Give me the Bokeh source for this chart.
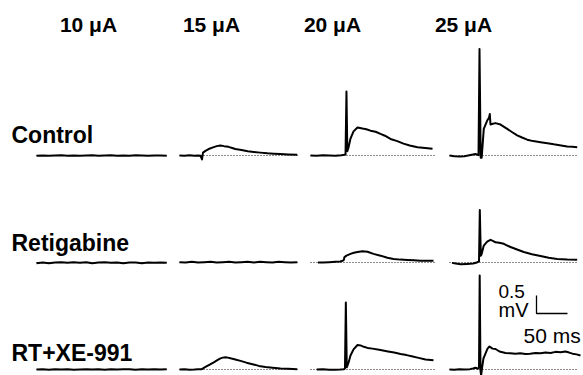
from bokeh.plotting import figure
from bokeh.models import Range1d, Label
from bokeh.embed import file_html
from bokeh.resources import INLINE

# ---------------------------------------------------------------------------
# Field-potential traces: 3 conditions x 4 stimulus intensities
# time in ms (from the start of each sweep), voltage in mV (relative to baseline)
# ---------------------------------------------------------------------------
currents = ["10 \u03bcA", "15 \u03bcA", "20 \u03bcA", "25 \u03bcA"]
conditions = ["Control", "Retigabine", "RT+XE-991"]

# --- Control ---------------------------------------------------------------
ctrl_10_t = [0, 10, 20, 30, 40, 50, 60, 70, 80, 90, 100, 110, 120, 130, 140, 150, 160, 170, 180, 190, 200, 210]
ctrl_10_v = [-0.01, 0.00, -0.01, 0.00, 0.01, -0.01, 0.00, -0.01, 0.00, 0.01, -0.01, 0.00, 0.01, -0.01, 0.00,
             -0.01, 0.01, 0.00, -0.01, 0.00, 0.00, -0.01]

ctrl_15_t = [0, 8, 16, 24, 30, 34, 36.3, 37.9, 41.9, 47, 53, 60, 66, 72, 79, 85, 90, 100, 110, 120, 130, 142,
             152, 163, 175, 190]
ctrl_15_v = [0.00, -0.01, 0.01, -0.01, 0.00, -0.01, -0.11, 0.08, 0.13, 0.18, 0.22, 0.26, 0.28, 0.26, 0.24, 0.21,
             0.18, 0.15, 0.12, 0.10, 0.08, 0.06, 0.05, 0.04, 0.03, 0.02]

ctrl_20_t = [0, 10, 20, 30, 40, 50, 54, 56.5, 58, 59.4, 61.3, 64.5, 69.4, 75.8, 83.9, 90, 96.8, 105, 112.9, 120,
             129, 140, 150, 160, 172.6, 185, 196.8]
ctrl_20_v = [0.00, -0.01, 0.01, 0.00, -0.01, 0.01, 0.02, 0.03, 1.78, 0.12, 0.22, 0.47, 0.67, 0.78, 0.75, 0.73,
             0.69, 0.66, 0.60, 0.55, 0.46, 0.40, 0.33, 0.28, 0.23, 0.21, 0.19]

ctrl_25_t = [0, 8, 16, 24, 30, 36, 42, 46.8, 48.4, 50.3, 51.9, 55.3, 60.8, 63.7, 65.0, 66.1, 70, 74.2, 82.3,
             93.1, 100, 109.2, 117, 125.3, 135, 146.8, 158, 168.2, 180, 189.8, 198, 206]
ctrl_25_v = [0.00, -0.02, -0.03, -0.02, 0.00, 0.02, 0.04, 0.01, 2.96, -0.06, -0.06, 0.74, 0.97, 1.05, 1.15,
             0.86, 0.88, 0.90, 0.86, 0.74, 0.66, 0.56, 0.50, 0.44, 0.40, 0.37, 0.34, 0.31, 0.28, 0.25, 0.24, 0.23]

# --- Retigabine ------------------------------------------------------------
rtg_10_t = [0, 10, 20, 30, 40, 50, 60, 70, 80, 90, 100, 110, 120, 130, 140, 150, 160, 170, 180, 190, 200, 210]
rtg_10_v = [-0.02, 0.00, -0.02, 0.00, 0.01, -0.01, 0.01, -0.01, 0.01, -0.02, 0.00, 0.01, -0.01, 0.00, -0.02,
            0.00, 0.00, -0.02, 0.00, -0.01, 0.00, -0.01]

rtg_15_t = [0, 10, 20, 30, 40, 50, 60, 70, 80, 90, 100, 110, 120, 130, 140, 150, 160, 170, 180, 190]
rtg_15_v = [0.01, 0.00, 0.02, 0.00, 0.01, 0.02, 0.00, 0.01, 0.02, 0.00, 0.01, 0.02, 0.00, 0.02, 0.01, 0.00,
            0.02, 0.01, 0.00, 0.01]

rtg_20_t = [12, 20, 30, 40, 48, 52, 53.7, 54.8, 58, 64.5, 70, 75.8, 83.9, 91.9, 101.6, 112.9, 124, 133.9, 145,
            156.5, 167, 177.4, 188, 198.4]
rtg_20_v = [0.00, 0.00, 0.01, 0.02, 0.03, 0.05, 0.07, 0.15, 0.19, 0.24, 0.27, 0.29, 0.31, 0.30, 0.24, 0.19,
            0.13, 0.10, 0.08, 0.07, 0.06, 0.05, 0.05, 0.05]

rtg_25_t = [4, 10, 18, 28, 38, 44, 47.6, 48.9, 50.5, 51.6, 55.3, 60.8, 66.1, 70, 74.2, 80, 87.6, 98.4, 109,
            119.8, 133, 146.8, 160, 173.7, 190, 206]
rtg_25_v = [-0.01, -0.03, -0.05, -0.04, -0.03, 0.00, 0.03, 1.46, 0.19, 0.22, 0.47, 0.58, 0.63, 0.60, 0.56, 0.55,
            0.52, 0.43, 0.36, 0.29, 0.23, 0.18, 0.13, 0.10, 0.08, 0.075]

# --- Retigabine + XE-991 ---------------------------------------------------
rtxe_10_t = [0, 10, 20, 30, 40, 50, 60, 70, 80, 90, 100, 110, 120, 130, 140, 150, 160, 170, 180, 190, 200, 210]
rtxe_10_v = [0.00, 0.01, -0.01, 0.01, 0.00, 0.01, -0.01, 0.00, 0.01, 0.00, 0.01, -0.01, 0.01, 0.00, 0.01,
             0.01, -0.01, 0.01, 0.00, 0.01, 0.00, 0.01]

rtxe_15_t = [0, 8, 16, 24, 30, 36, 41.9, 48, 55.3, 61, 66.1, 70, 74.2, 78, 82.3, 90, 98.4, 108, 119.4, 128,
             138.7, 150, 162.9, 175, 190]
rtxe_15_v = [0.00, 0.01, -0.01, 0.00, 0.01, 0.01, 0.07, 0.13, 0.20, 0.26, 0.31, 0.33, 0.34, 0.33, 0.31, 0.28,
             0.24, 0.19, 0.14, 0.10, 0.07, 0.05, 0.03, 0.02, 0.01]

rtxe_20_t = [10, 20, 30, 40, 48, 54, 55.6, 57, 58.5, 61.3, 64.5, 69.4, 75.8, 80.6, 86, 91.9, 100, 112.9, 125,
             135, 145.2, 155, 165, 172.6, 185.5, 198.4]
rtxe_20_v = [0.00, 0.01, -0.01, -0.01, 0.00, 0.01, 0.03, 1.86, 0.06, 0.19, 0.39, 0.56, 0.68, 0.67, 0.63, 0.60,
             0.58, 0.54, 0.50, 0.47, 0.43, 0.40, 0.36, 0.33, 0.28, 0.26]

rtxe_25_t = [0, 8, 16, 24, 33, 38, 42, 46, 47.6, 48.7, 50, 51, 52.4, 54.8, 58, 61.3, 64.5, 69.4, 74.2, 80.6,
             90.3, 98, 106.5, 114, 122.6, 130, 138.7, 147, 154.8, 163, 171, 179, 187, 193, 198.4, 205, 211.3]
rtxe_25_v = [0.00, -0.01, 0.01, 0.00, 0.01, 0.03, 0.05, 0.02, 0.06, 2.61, -0.03, -0.17, 0.03, 0.31, 0.44,
             0.58, 0.64, 0.58, 0.57, 0.50, 0.46, 0.45, 0.44, 0.45, 0.43, 0.44, 0.46, 0.45, 0.47, 0.46, 0.49,
             0.48, 0.50, 0.47, 0.44, 0.42, 0.39]

# sweep length (ms) of the dotted baseline drawn under each column
baseline_len = [210, 192, 202, 207]

traces = [
    [(ctrl_10_t, ctrl_10_v), (ctrl_15_t, ctrl_15_v), (ctrl_20_t, ctrl_20_v), (ctrl_25_t, ctrl_25_v)],
    [(rtg_10_t, rtg_10_v), (rtg_15_t, rtg_15_v), (rtg_20_t, rtg_20_v), (rtg_25_t, rtg_25_v)],
    [(rtxe_10_t, rtxe_10_v), (rtxe_15_t, rtxe_15_v), (rtxe_20_t, rtxe_20_v), (rtxe_25_t, rtxe_25_v)],
]

# ---------------------------------------------------------------------------
# Layout: one canvas in ms / mV, each panel shifted by its column / row offset
# ---------------------------------------------------------------------------
W, H = 583, 375
PX_PER_MS = 0.62   # 50 ms  -> 31 px
PX_PER_MV = 36.0   # 0.5 mV -> 18 px
TEXT_LIFT = 8      # px; compensates the renderer's baseline placement


def sx(px):
    return px / PX_PER_MS


def sy(py):
    return (H - py) / PX_PER_MV


col_x0 = [sx(36), sx(179), sx(310), sx(449)]
row_y0 = [sy(155), sy(262), sy(369)]

p = figure(width=W, height=H, x_range=Range1d(0, sx(W)), y_range=Range1d(0, sy(0)),
           x_axis_type=None, y_axis_type=None, output_backend="svg", toolbar_location=None,
           min_border=0)
p.grid.visible = False
p.outline_line_color = None
p.background_fill_color = "white"
p.border_fill_color = "white"

FONT = "Liberation Sans"

for r in range(len(conditions)):
    for c in range(len(currents)):
        x0, y0 = col_x0[c], row_y0[r]
        # dotted zero line
        p.line([x0, x0 + baseline_len[c]], [y0, y0], line_color="black", line_width=1,
               line_dash="1 2", line_alpha=0.9)
        t, v = traces[r][c]
        p.line([x0 + ti for ti in t], [y0 + vi for vi in v], line_color="black", line_width=2,
               line_join="round")

# column titles
title_cx = [88, 211, 332, 463]
for c, txt in enumerate(currents):
    p.add_layout(Label(x=sx(title_cx[c]), y=sy(32 - TEXT_LIFT), text=txt, text_align="center",
                       text_baseline="alphabetic", text_font=FONT, text_font_size="21px",
                       text_font_style="bold", text_color="black"))

# row labels
row_label_base = [142, 250, 360]
for r, txt in enumerate(conditions):
    p.add_layout(Label(x=sx(11), y=sy(row_label_base[r] - TEXT_LIFT), text=txt, text_align="left",
                       text_baseline="alphabetic", text_font=FONT, text_font_size="23px",
                       text_font_style="bold", text_color="black"))

# scale bar: 0.5 mV / 50 ms
bar_x, bar_y = sx(536), sy(313)
p.line([bar_x, bar_x, bar_x + 50], [bar_y + 0.5, bar_y, bar_y], line_color="black", line_width=1.3)
for txt, px, py, fs in [("0.5", 498, 298, "19px"), ("mV", 498, 316, "20px"), ("50 ms", 523, 342, "21px")]:
    p.add_layout(Label(x=sx(px), y=sy(py - TEXT_LIFT + 1), text=txt, text_align="left",
                       text_baseline="alphabetic", text_font=FONT, text_font_size=fs,
                       text_color="black"))

open("out.html", "w").write(file_html(p, INLINE))
